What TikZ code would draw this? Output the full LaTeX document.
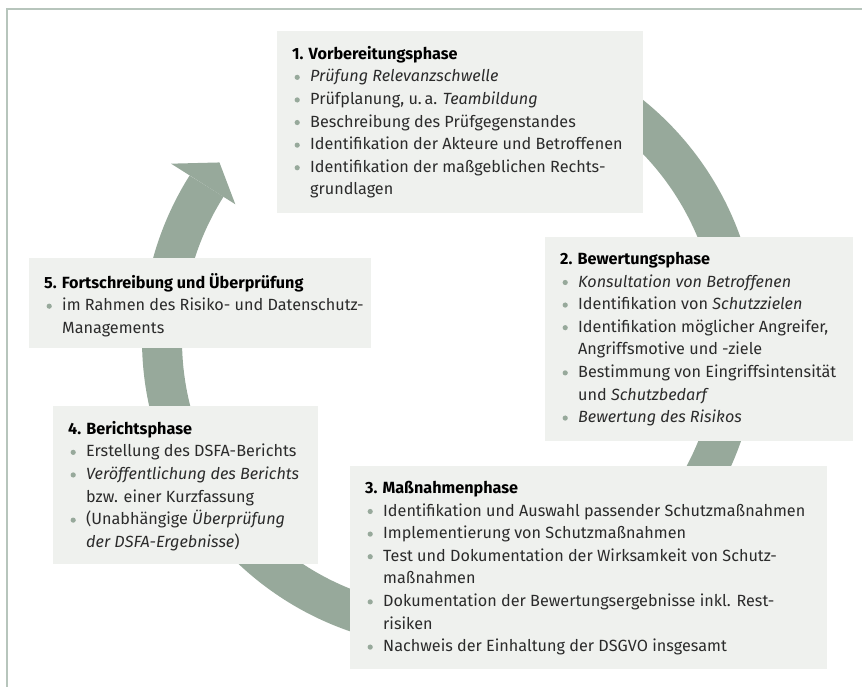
\documentclass[tikz,border=0pt]{standalone}
\usepackage{fontspec}
\setmainfont{Fira Sans}
\usetikzlibrary{calc,positioning}

\definecolor{arcgray}{HTML}{97A99B}
\definecolor{boxgray}{HTML}{EFF1EE}
\definecolor{framegray}{HTML}{B7C5BC}
\definecolor{inkgray}{HTML}{2B2B2B}

% box content: width, height, text
\newcommand\phase[3]{\parbox[c][#2pt][t]{#1pt}{\leftskip=15pt\rightskip=0pt plus 1fil\parindent=0pt\vspace*{15pt}#3}}
\newcommand\phasetitle[1]{\noindent\textbf{\color{black}#1}}
\newcommand\phasedot{\tikz[baseline=-4.6pt]\fill[arcgray] (0,0) circle (2.6pt);}
\newcommand\phaseitem[1]{\par\hangindent=18pt\hangafter=1\noindent\makebox[18pt][l]{\hspace{2.4pt}\phasedot}#1}

\tikzset{
  phasebox/.style={fill=boxgray, anchor=north west, inner sep=0pt,
    text=inkgray, font=\fontsize{16.2}{22.6}\selectfont},
  cycleband/.style={arcgray, line width=40pt}
}

\begin{document}
\begin{tikzpicture}[x=1pt,y=1pt]
	\useasboundingbox (0,0) rectangle (862,-687);
	% frame
	\draw[framegray, line width=2pt] (7,-687) -- (7,-9) -- (862,-9);

	% cycle arrow
	\coordinate (ctr) at (450,-340);
	\draw[cycleband] ($(ctr)+(80:288)$) arc[start angle=80, end angle=-212.3, radius=288];
	\fill[arcgray] ($(ctr)+(147.7:330)$) -- ($(ctr)+(142.4:291)$) -- ($(ctr)+(147.7:254)$) -- cycle;

	% phases
	\node[phasebox] (vorb) at (277,-31) {\phase{366}{182}{%
		\phasetitle{1. Vorbereitungsphase}
		\phaseitem{\textit{Prüfung Relevanzschwelle}}
		\phaseitem{Prüfplanung, u.\,a. \textit{Teambildung}}
		\phaseitem{Beschreibung des Prüfgegenstandes}
		\phaseitem{Identifikation der Akteure und Betroffenen}
		\phaseitem{Identifikation der maßgeblichen Rechts-\newline grundlagen}}};
	\node[phasebox] (bew) at (545,-237) {\phase{308}{204}{%
		\phasetitle{2. Bewertungsphase}
		\phaseitem{\textit{Konsultation von Betroffenen}}
		\phaseitem{Identifikation von \textit{Schutzzielen}}
		\phaseitem{Identifikation möglicher Angreifer,\newline Angriffsmotive und -ziele}
		\phaseitem{Bestimmung von Eingriffsintensität\newline und \textit{Schutzbedarf}}
		\phaseitem{\textit{Bewertung des Risikos}}}};
	\node[phasebox] (mass) at (350,-466) {\phase{477}{203}{%
		\phasetitle{3. Maßnahmenphase}
		\phaseitem{Identifikation und Auswahl passender Schutzmaßnahmen}
		\phaseitem{Implementierung von Schutzmaßnahmen}
		\phaseitem{Test und Dokumentation der Wirksamkeit von Schutz-\newline maßnahmen}
		\phaseitem{Dokumentation der Bewertungsergebnisse inkl. Rest-\newline risiken}
		\phaseitem{Nachweis der Einhaltung der DSGVO insgesamt}}};
	\node[phasebox] (ber) at (53,-406) {\phase{265}{158}{%
		\phasetitle{4. Berichtsphase}
		\phaseitem{Erstellung des DSFA-Berichts}
		\phaseitem{\textit{Veröffentlichung des Berichts}\newline bzw. einer Kurzfassung}
		\phaseitem{(Unabhängige \textit{Überprüfung}\newline \textit{der DSFA-Ergebnisse})}}};
	\node[phasebox] (fort) at (29,-258) {\phase{342}{90}{%
		\phasetitle{5. Fortschreibung und Überprüfung}
		\phaseitem{\mbox{im Rahmen des Risiko- und Datenschutz-}\newline Managements}}};
\end{tikzpicture}
\end{document}
